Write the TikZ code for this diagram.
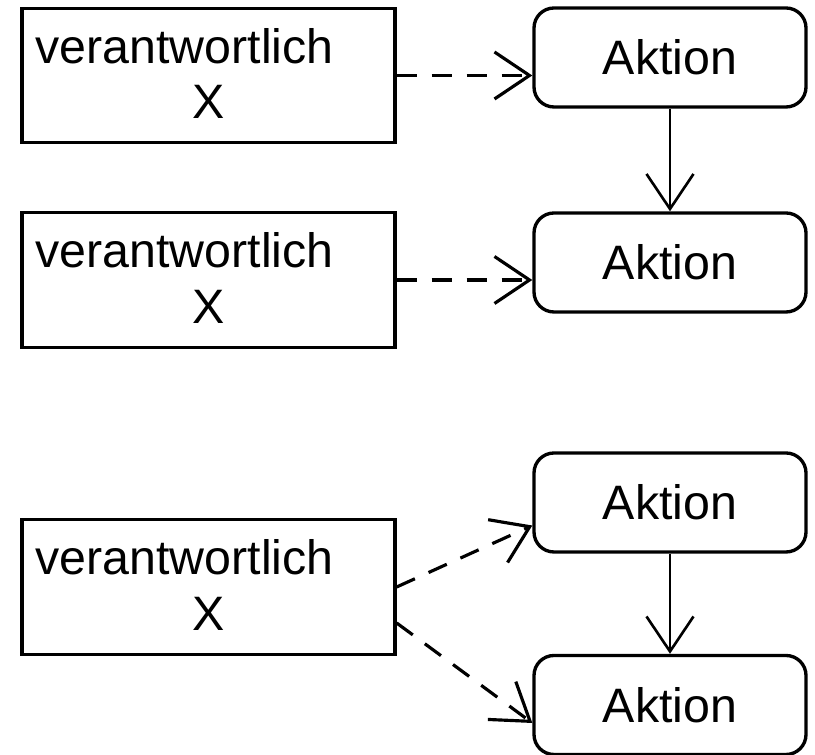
\documentclass[tikz,border=0pt]{standalone}
\usepackage{fontspec}
\setmainfont{Liberation Sans}
\usetikzlibrary{arrows,arrows.meta,positioning}

\tikzset{
  verant/.style={draw, line width=1.9pt, minimum width=7.46cm, minimum height=2.69cm, inner sep=0pt},
  aktion/.style={draw, line width=1.9pt, rounded corners=0.4cm, minimum width=5.44cm, minimum height=1.98cm, font=\fontsize{27.5}{32}\selectfont},
  txt/.style={inner sep=0pt, font=\fontsize{27.5}{32}\selectfont},
  flow/.style={line width=1.5pt, -{Straight Barb[length=7mm,width=9.4mm]}},
  resp/.style={flow, line width=1.8pt, dash pattern=on 4mm off 3mm}
}

\begin{document}
\begin{tikzpicture}

\useasboundingbox (0,0) rectangle (16.3,15.1);

% left boxes
\node[verant] (V1) at (4.17,13.59) {};
\node[verant] (V2) at (4.17,9.5) {};
\node[verant] (V3) at (4.17,3.36) {};

\node[txt, anchor=base west] (v1) at ([xshift=3mm,yshift=-11.3mm]V1.north west) {verantwortlich};
\node[txt] (x1) at ([yshift=-5.3mm]V1.center) {X};
\node[txt, anchor=base west] (v2) at ([xshift=3mm,yshift=-11.3mm]V2.north west) {verantwortlich};
\node[txt] (x2) at ([yshift=-5.3mm]V2.center) {X};
\node[txt, anchor=base west] (v3) at ([xshift=3mm,yshift=-11.3mm]V3.north west) {verantwortlich};
\node[txt] (x3) at ([yshift=-5.3mm]V3.center) {X};

% actions
\node[aktion] (A1) at (13.4,13.95) {Aktion};
\node[aktion] (A2) at (13.4,9.85) {Aktion};
\node[aktion] (A3) at (13.4,5.05) {Aktion};
\node[aktion] (A4) at (13.4,1.0) {Aktion};

\draw[flow] (A1) -- (A2);
\draw[flow] (A3) -- (A4);

\draw[resp] (V1.east) -- (V1.east -| A1.west);
\draw[resp] (V2.east) -- (V2.east -| A2.west);
\draw[resp] (V3.east) -- ([yshift=-4.6mm]A3.west);
\draw[resp] ([yshift=-7.2mm]V3.east) -- ([yshift=-3.6mm]A4.west);

\end{tikzpicture}
\end{document}
